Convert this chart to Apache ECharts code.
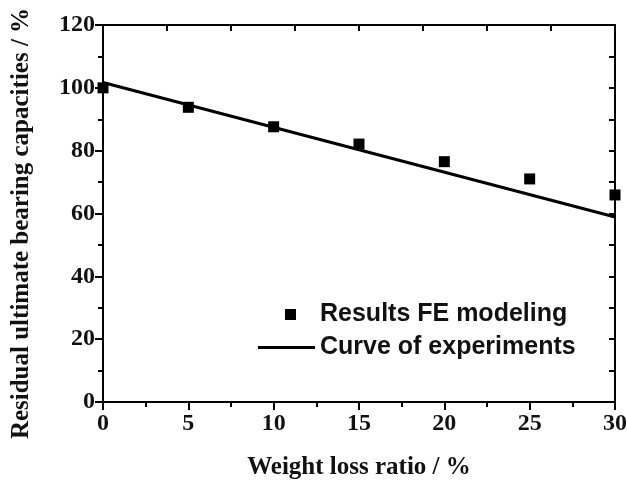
<!DOCTYPE html>
<html>
<head>
<meta charset="utf-8">
<script src="https://cdn.jsdelivr.net/npm/echarts@6/dist/echarts.min.js"></script>
<style>
  html, body { margin: 0; padding: 0; background: #fff; }
  #chart { width: 627px; height: 482px; }
</style>
</head>
<body>
<div id="chart"></div>
<script>
  // FE model results (squares)
  var feX = [0, 5, 10, 15, 20, 25, 30];
  var feY = [100, 93.8, 87.6, 82.1, 76.5, 71.0, 65.9];
  // experimental curve (straight line)
  var curveX = [0, 30];
  var curveY = [101.7, 58.9];

  var serif = 'Liberation Serif';
  var sans = 'Liberation Sans';
  var ink = '#000';

  var legendText = { fontFamily: sans, fontWeight: 'bold', fontSize: 25, color: '#111' };

  var myChart = echarts.init(document.getElementById('chart'));
  myChart.setOption({
    animation: false,
    grid: { left: 103, right: 12, top: 25, bottom: 80, outerBoundsMode: 'none' },
    legend: [{
      left: 280, top: 297,
      icon: 'rect', itemWidth: 11, itemHeight: 11,
      textStyle: Object.assign({ padding: [0, 0, 0, 19] }, legendText),
      data: ['Results FE modeling']
    }, {
      left: 253, top: 330,
      icon: 'rect', itemWidth: 57, itemHeight: 3,
      textStyle: legendText,
      data: ['Curve of experiments']
    }],
    xAxis: [{
      type: 'value', min: 0, max: 30, interval: 5,
      name: 'Weight loss ratio / %',
      nameLocation: 'middle', nameGap: 53,
      nameTextStyle: { fontFamily: serif, fontWeight: 'bold', fontSize: 25, color: '#111' },
      axisLine: { onZero: false, lineStyle: { color: ink, width: 2 } },
      axisTick: { inside: false, length: 8, lineStyle: { color: ink, width: 2 } },
      minorTick: { show: true, splitNumber: 2, length: 5, lineStyle: { color: ink, width: 2 } },
      axisLabel: { fontFamily: serif, fontWeight: 'bold', fontSize: 24, color: '#111', margin: 10 },
      splitLine: { show: false }
    }, {
      type: 'value', position: 'top', min: 0, max: 30, interval: 3.75,
      axisLine: { show: true, onZero: false, lineStyle: { color: ink, width: 2 } },
      axisTick: { show: true, inside: true, length: 6, lineStyle: { color: ink, width: 2 } },
      axisLabel: { show: false },
      splitLine: { show: false }
    }],
    yAxis: [{
      type: 'value', min: 0, max: 120, interval: 20,
      name: 'Residual ultimate bearing capacities / %',
      nameLocation: 'middle', nameGap: 69,
      nameTextStyle: { fontFamily: serif, fontWeight: 'bold', fontSize: 25, color: '#111', padding: [0, 20, 0, 0] },
      axisLine: { show: true, onZero: false, lineStyle: { color: ink, width: 2 } },
      axisTick: { show: true, inside: false, length: 8, lineStyle: { color: ink, width: 2 } },
      minorTick: { show: true, splitNumber: 2, length: 5, lineStyle: { color: ink, width: 2 } },
      axisLabel: { fontFamily: serif, fontWeight: 'bold', fontSize: 24, color: '#111', margin: 8 },
      splitLine: { show: false }
    }, {
      type: 'value', position: 'right', min: 0, max: 120, interval: 10,
      axisLine: { show: true, onZero: false, lineStyle: { color: ink, width: 2 } },
      axisTick: { show: true, inside: true, length: 6, lineStyle: { color: ink, width: 2 } },
      axisLabel: { show: false },
      splitLine: { show: false }
    }],
    series: [{
      name: 'Results FE modeling',
      type: 'scatter',
      symbol: 'rect',
      symbolSize: 11,
      itemStyle: { color: ink, opacity: 1 },
      data: feX.map(function (x, i) { return [x, feY[i]]; }),
      z: 3
    }, {
      name: 'Curve of experiments',
      type: 'line',
      symbol: 'none',
      lineStyle: { color: ink, width: 3 },
      itemStyle: { color: ink },
      data: curveX.map(function (x, i) { return [x, curveY[i]]; })
    }]
  });
</script>
</body>
</html>
